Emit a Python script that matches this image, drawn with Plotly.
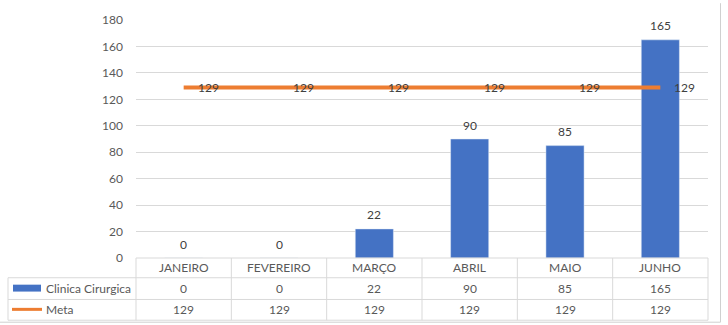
import plotly.graph_objects as go

# Monthly data
meses = ["JANEIRO", "FEVEREIRO", "MARÇO", "ABRIL", "MAIO", "JUNHO"]
clinica_cirurgica = [0, 0, 22, 90, 85, 165]
meta = [129, 129, 129, 129, 129, 129]
serie_barras = "Clinica Cirurgica"
serie_linha = "Meta"
y_ticks = [0, 20, 40, 60, 80, 100, 120, 140, 160, 180]

W, H = 728, 325
PLOT_L, PLOT_R = 136, 708
PLOT_T, PLOT_B = 17, 258
ROW_LINES = [278, 300, 321]
TABLE_L = 8

BLUE = "#4472C4"
ORANGE = "#ED7D31"
GRID = "#D9D9D9"
TXT = "#595959"
LBL = "#404040"
FONT = "Lato, 'Open Sans', sans-serif"

x_idx = list(range(len(meses)))

fig = go.Figure()
fig.add_trace(go.Bar(
    x=x_idx, y=clinica_cirurgica, width=0.4, marker_color=BLUE,
    name=serie_barras, showlegend=False,
))
fig.add_trace(go.Scatter(
    x=x_idx, y=meta, mode="lines", line=dict(color=ORANGE, width=4),
    name=serie_linha, showlegend=False,
))


# Pixel -> paper coordinates (paper spans the plot area)
def px(xp):
    return (xp - PLOT_L) / (PLOT_R - PLOT_L)


def py(yp):
    return (PLOT_B - yp) / (PLOT_B - PLOT_T)


annotations = []
# Value labels above each bar
for i, v in enumerate(clinica_cirurgica):
    annotations.append(dict(
        x=i, y=v, xref="x", yref="y", text=str(v), showarrow=False,
        xanchor="center", yanchor="middle", yshift=14,
        font=dict(family=FONT, size=12, color=LBL),
    ))
# Data labels for the target line, to the right of each point
for i, v in enumerate(meta):
    annotations.append(dict(
        x=i, y=v, xref="x", yref="y", text=str(v), showarrow=False,
        xanchor="left", yanchor="middle", xshift=12,
        font=dict(family=FONT, size=12, color=LBL),
    ))

# Data table below the axis
col_w = (PLOT_R - PLOT_L) / len(meses)
row_centers = [(PLOT_B + ROW_LINES[0]) / 2, (ROW_LINES[0] + ROW_LINES[1]) / 2,
               (ROW_LINES[1] + ROW_LINES[2]) / 2]
for i, m in enumerate(meses):
    cx = PLOT_L + col_w * (i + 0.5)
    for r, txt in enumerate([m, str(clinica_cirurgica[i]), str(meta[i])]):
        annotations.append(dict(
            x=px(cx), y=py(row_centers[r]), xref="paper", yref="paper",
            text=txt, showarrow=False, xanchor="center", yanchor="middle",
            font=dict(family=FONT, size=12, color=TXT),
        ))
for r, nome in [(1, serie_barras), (2, serie_linha)]:
    annotations.append(dict(
        x=px(44), y=py(row_centers[r]), xref="paper", yref="paper",
        text=nome, showarrow=False, xanchor="left", yanchor="middle",
        font=dict(family=FONT, size=12, color=TXT),
    ))

shapes = []


def hline(y, x0, x1, color=GRID):
    shapes.append(dict(type="line", xref="paper", yref="paper",
                       x0=px(x0), x1=px(x1), y0=py(y), y1=py(y),
                       line=dict(color=color, width=1)))


def vline(x, y0, y1, color=GRID):
    shapes.append(dict(type="line", xref="paper", yref="paper",
                       x0=px(x), x1=px(x), y0=py(y0), y1=py(y1),
                       line=dict(color=color, width=1)))


hline(PLOT_B, PLOT_L, PLOT_R)
for y in ROW_LINES:
    hline(y, TABLE_L, PLOT_R)
for i in range(len(meses) + 1):
    vline(PLOT_L + col_w * i, PLOT_B, ROW_LINES[-1])
vline(TABLE_L, ROW_LINES[0], ROW_LINES[-1])

# Legend keys inside the table
shapes.append(dict(type="rect", xref="paper", yref="paper",
                   x0=px(13), x1=px(41), y0=py(285), y1=py(292),
                   fillcolor=BLUE, line=dict(width=0)))
shapes.append(dict(type="line", xref="paper", yref="paper",
                   x0=px(12), x1=px(42), y0=py(310), y1=py(310),
                   line=dict(color=ORANGE, width=3)))

# Chart frame (right and bottom edges)
vline(720.5, 0, 323, color="#D0D0D0")
hline(323, 0, 720.5, color="#D0D0D0")

fig.update_layout(
    width=W, height=H,
    margin=dict(l=PLOT_L, r=W - PLOT_R, t=PLOT_T, b=H - PLOT_B),
    paper_bgcolor="white", plot_bgcolor="white",
    bargap=0.6,
    xaxis=dict(range=[-0.5, len(meses) - 0.5], showticklabels=False,
               showgrid=False, zeroline=False, showline=False, fixedrange=True),
    yaxis=dict(range=[0, 180], tickvals=y_ticks, showgrid=True, gridcolor=GRID,
               gridwidth=1, zeroline=False, showline=False, ticks="",
               ticklabelstandoff=12,
               tickfont=dict(family=FONT, size=12, color=TXT), fixedrange=True),
    annotations=annotations,
    shapes=shapes,
    showlegend=False,
)

fig.write_html("out.html")
